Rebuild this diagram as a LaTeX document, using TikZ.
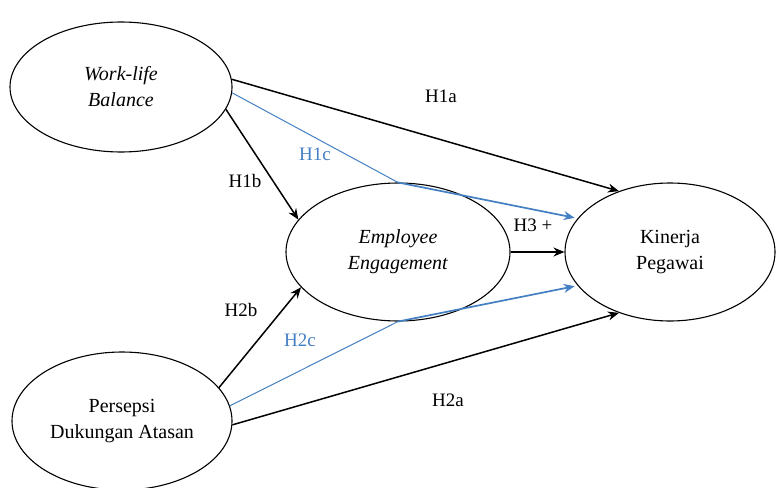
\documentclass[tikz,border=0pt]{standalone}
\usepackage{fontspec}
\setmainfont{Liberation Serif}
\usetikzlibrary{positioning,arrows.meta,shapes.geometric}
\definecolor{pathblue}{RGB}{68,128,196}
\tikzset{
  construct/.style={ellipse, draw=black, line width=1.1pt, fill=white, inner sep=0pt, align=center, font=\fontsize{20}{26}\selectfont},
  arr/.style={-{Stealth[length=11pt,width=9pt]}, line width=1.5pt, draw=black},
  medline/.style={line width=1pt, draw=pathblue},
  medarr/.style={-{Stealth[length=11pt,width=9pt]}, line width=1.7pt, draw=pathblue},
  hyp/.style={font=\fontsize{19}{21}\selectfont, inner sep=1pt},
}

\begin{document}
\begin{tikzpicture}[x=1pt,y=-1pt]
  \useasboundingbox (0,0) rectangle (778,487);
  % constructs
  \node[construct, minimum width=222pt, minimum height=130pt] (wlb) at (121,87) {\textit{Work-life}\\ \textit{Balance}};
  \node[construct, minimum width=220pt, minimum height=138pt] (pda) at (122,421) {Persepsi\\ Dukungan Atasan};
  \node[construct, minimum width=224pt, minimum height=138pt] (ee) at (398,252) {\textit{Employee}\\ \textit{Engagement}};
  \node[construct, minimum width=210pt, minimum height=138pt] (kp) at (670,252) {Kinerja\\ Pegawai};

  % direct paths
  \draw[arr] (wlb.4) -- (kp.130);
  \draw[arr] (wlb.-12) -- (ee.162);
  \draw[arr] (pda.19) -- (ee.200);
  \draw[arr] (pda.-2) -- (kp.230);
  \draw[arr] (ee.east) -- (kp.west);

  % mediation paths
  \draw[medline] (wlb.-3) -- (ee.north);
  \draw[medarr, shorten >=3pt] (ee.north) -- (kp.160);
  \draw[medline] (pda.8) -- (ee.south);
  \draw[medarr, shorten >=3pt] (ee.south) -- (kp.200);

  % hypothesis labels
  \node[hyp] (h1a) at (441,96) {H1a};
  \node[hyp] (h1b) at (245,181) {H1b};
  \node[hyp, text=pathblue] (h1c) at (315,154) {H1c};
  \node[hyp] (h3) at (533,225) {H3 +};
  \node[hyp] (h2b) at (241,310) {H2b};
  \node[hyp, text=pathblue] (h2c) at (300,340) {H2c};
  \node[hyp] (h2a) at (448,400) {H2a};
\end{tikzpicture}
\end{document}
